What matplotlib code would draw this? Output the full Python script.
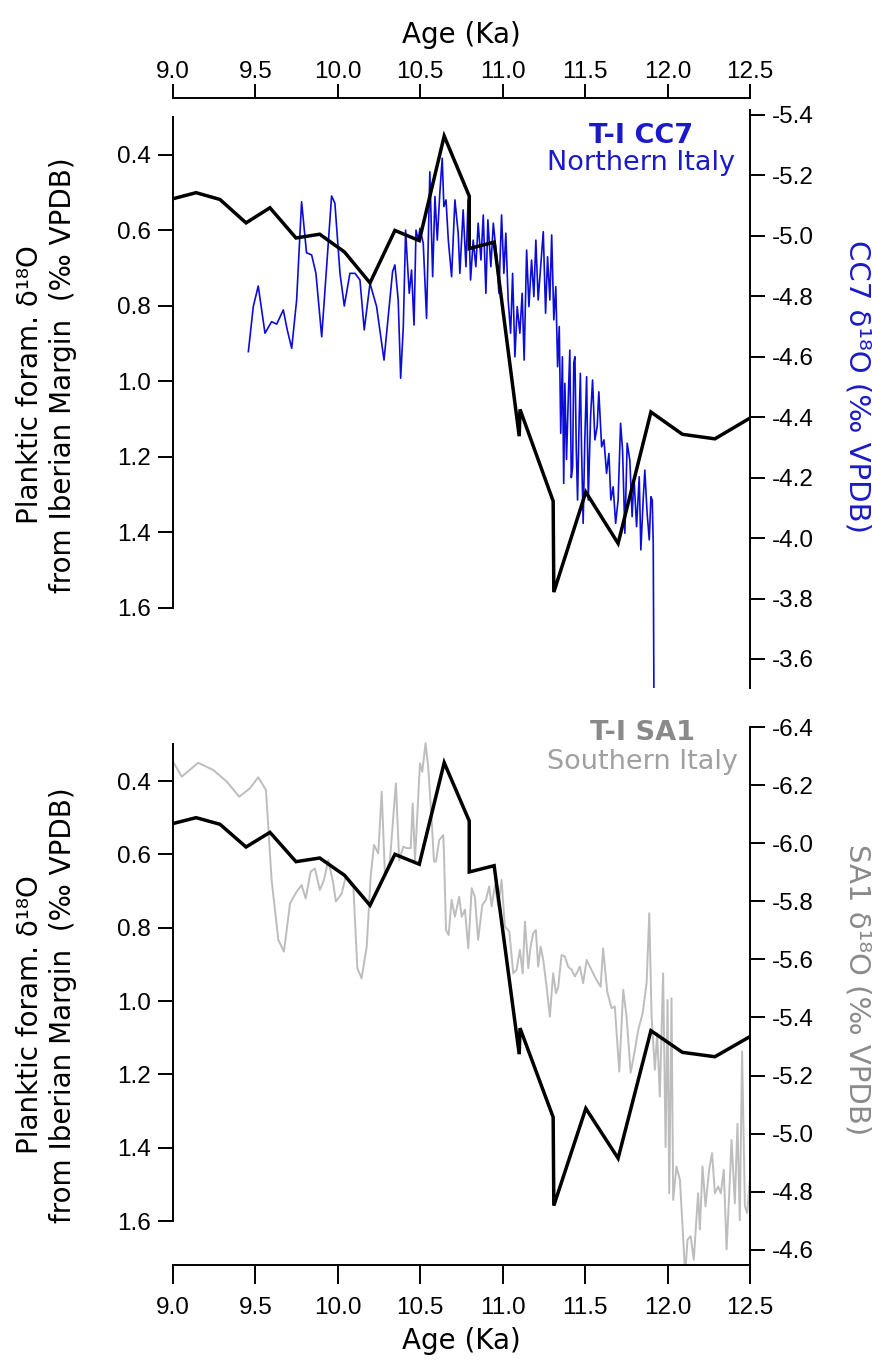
import matplotlib
matplotlib.use("Agg")
import matplotlib.pyplot as plt

plt.rcParams["font.family"] = ["Liberation Sans", "DejaVu Sans"]
plt.rcParams["axes.unicode_minus"] = False

# Iberian Margin planktic foraminifera d18O (same record in both panels)
iberia_age = [9.0, 9.14, 9.285, 9.443, 9.588, 9.746, 9.89, 10.04, 10.195, 10.346,
              10.494, 10.645, 10.797, 10.797, 10.948, 11.10, 11.105, 11.306, 11.31,
              11.504, 11.70, 11.899, 12.09, 12.287, 12.5]
iberia_d18o = [0.516, 0.50, 0.518, 0.58, 0.54, 0.62, 0.61, 0.657, 0.739, 0.60,
               0.627, 0.35, 0.509, 0.648, 0.631, 1.145, 1.074, 1.317, 1.558,
               1.293, 1.429, 1.081, 1.14, 1.152, 1.097]

# CC7 speleothem, Northern Italy
cc7_age = [9.457, 9.487, 9.517, 9.558, 9.598, 9.629, 9.669, 9.693, 9.72, 9.75,
           9.78, 9.81, 9.841, 9.867, 9.902, 9.932, 9.962, 9.982, 10.013, 10.039,
           10.073, 10.104, 10.134, 10.16, 10.195, 10.235, 10.28, 10.332, 10.346, 10.366,
           10.381, 10.397, 10.411, 10.421, 10.433, 10.447, 10.462, 10.474, 10.488, 10.498,
           10.518, 10.538, 10.558, 10.575, 10.589, 10.603, 10.619, 10.633, 10.643, 10.656,
           10.67, 10.69, 10.71, 10.73, 10.74, 10.76, 10.777, 10.79, 10.805, 10.821,
           10.837, 10.851, 10.868, 10.882, 10.898, 10.91, 10.928, 10.943, 10.963, 10.977,
           10.993, 11.007, 11.019, 11.033, 11.048, 11.06, 11.074, 11.088, 11.104, 11.118,
           11.13, 11.145, 11.159, 11.175, 11.189, 11.201, 11.215, 11.23, 11.246, 11.26,
           11.272, 11.286, 11.297, 11.31, 11.322, 11.333, 11.343, 11.352, 11.362, 11.37,
           11.377, 11.387, 11.397, 11.407, 11.416, 11.424, 11.431, 11.438, 11.446, 11.454,
           11.464, 11.471, 11.478, 11.488, 11.498, 11.509, 11.519, 11.533, 11.545, 11.559,
           11.573, 11.583, 11.60, 11.614, 11.63, 11.644, 11.656, 11.67, 11.685, 11.70,
           11.715, 11.727, 11.741, 11.755, 11.771, 11.785, 11.796, 11.812, 11.828, 11.838,
           11.852, 11.862, 11.876, 11.889, 11.899, 11.907, 11.913, 11.917]
cc7_d18o = [-4.617, -4.766, -4.834, -4.678, -4.716, -4.708, -4.755, -4.689, -4.628, -4.788,
            -5.113, -4.944, -4.937, -4.876, -4.666, -4.898, -5.132, -5.108, -4.876, -4.768,
            -4.876, -4.876, -4.854, -4.689, -4.843, -4.766, -4.589, -4.882, -4.904, -4.788,
            -4.529, -4.70, -5.019, -4.92, -4.81, -4.887, -4.705, -5.019, -4.986, -5.025,
            -4.975, -4.727, -5.212, -4.865, -5.13, -4.986, -5.146, -5.257, -5.097, -5.119,
            -4.986, -4.865, -5.119, -5.009, -4.876, -5.086, -4.898, -5.119, -4.854, -4.986,
            -4.898, -5.042, -4.92, -5.069, -4.81, -5.053, -4.898, -5.042, -4.931, -4.81,
            -5.069, -4.876, -5.009, -4.788, -4.678, -4.876, -4.60, -4.766, -4.678, -4.81,
            -4.589, -4.953, -4.766, -4.92, -4.799, -4.986, -4.788, -4.898, -5.014, -4.744,
            -4.931, -4.788, -5.003, -4.722, -4.832, -4.567, -4.70, -4.347, -4.60, -4.181,
            -4.512, -4.26, -4.45, -4.622, -4.20, -4.236, -4.58, -4.60, -4.30, -4.126,
            -4.402, -4.545, -4.30, -4.049, -4.325, -4.534, -4.126, -4.402, -4.523, -4.325,
            -4.369, -4.484, -4.302, -4.325, -4.214, -4.28, -4.126, -4.17, -4.049, -4.126,
            -4.38, -4.291, -4.016, -4.314, -4.258, -4.071, -4.203, -4.038, -4.203, -3.961,
            -4.126, -4.225, -4.082, -3.994, -4.137, -4.126, -3.983, -3.503]

# SA1 speleothem, Southern Italy
sa1_age = [9.0, 9.053, 9.153, 9.244, 9.326, 9.402, 9.467, 9.517, 9.564, 9.598,
           9.639, 9.673, 9.71, 9.75, 9.78, 9.805, 9.835, 9.861, 9.891, 9.916,
           9.942, 9.972, 9.988, 10.023, 10.049, 10.073, 10.094, 10.118, 10.144, 10.175,
           10.199, 10.219, 10.245, 10.266, 10.286, 10.316, 10.352, 10.372, 10.397, 10.417,
           10.442, 10.454, 10.468, 10.498, 10.512, 10.532, 10.548, 10.569, 10.583, 10.595,
           10.615, 10.639, 10.643, 10.656, 10.672, 10.69, 10.71, 10.736, 10.751, 10.771,
           10.791, 10.812, 10.831, 10.851, 10.876, 10.898, 10.918, 10.933, 10.953, 10.973,
           10.993, 11.013, 11.04, 11.064, 11.084, 11.104, 11.121, 11.135, 11.155, 11.169,
           11.185, 11.201, 11.215, 11.23, 11.246, 11.266, 11.286, 11.306, 11.323, 11.337,
           11.357, 11.377, 11.397, 11.418, 11.438, 11.468, 11.488, 11.509, 11.529, 11.549,
           11.569, 11.594, 11.609, 11.634, 11.66, 11.68, 11.707, 11.731, 11.751, 11.776,
           11.802, 11.822, 11.849, 11.873, 11.889, 11.903, 11.923, 11.937, 11.953, 11.973,
           11.988, 12.0, 12.01, 12.024, 12.034, 12.054, 12.075, 12.091, 12.107, 12.121,
           12.14, 12.159, 12.185, 12.196, 12.212, 12.23, 12.252, 12.27, 12.287, 12.307,
           12.323, 12.341, 12.358, 12.374, 12.388, 12.408, 12.424, 12.438, 12.452, 12.469,
           12.483, 12.5]
sa1_d18o = [-6.281, -6.229, -6.277, -6.252, -6.212, -6.16, -6.189, -6.227, -6.183, -5.874,
            -5.667, -5.627, -5.793, -5.833, -5.856, -5.81, -5.902, -5.913, -5.839, -5.874,
            -5.942, -5.862, -5.799, -5.827, -5.887, -5.862, -5.85, -5.57, -5.535, -5.644,
            -5.884, -5.994, -5.965, -6.177, -5.885, -5.942, -6.206, -5.942, -5.988, -5.983,
            -5.983, -6.137, -5.942, -6.275, -6.246, -6.344, -6.263, -6.08, -5.937, -5.937,
            -6.011, -6.028, -5.977, -5.701, -5.684, -5.805, -5.747, -5.816, -5.747, -5.771,
            -5.638, -5.845, -5.816, -5.667, -5.787, -5.805, -5.851, -5.782, -5.856, -5.782,
            -5.874, -5.713, -5.696, -5.552, -5.564, -5.633, -5.552, -5.73, -5.57, -5.644,
            -5.69, -5.701, -5.575, -5.644, -5.598, -5.506, -5.403, -5.552, -5.483, -5.506,
            -5.615, -5.61, -5.575, -5.564, -5.541, -5.575, -5.518, -5.598, -5.575, -5.552,
            -5.529, -5.506, -5.638, -5.489, -5.432, -5.438, -5.214, -5.495, -5.404, -5.21,
            -5.289, -5.357, -5.415, -5.52, -5.759, -5.404, -5.22, -5.346, -5.128, -5.552,
            -4.954, -5.46, -4.795, -5.466, -4.772, -4.887, -4.841, -4.681, -4.515, -4.635,
            -4.647, -4.566, -4.795, -4.67, -4.887, -4.75, -4.876, -4.933, -4.795, -4.818,
            -4.795, -4.876, -4.602, -4.795, -4.978, -4.761, -5.034, -4.702, -5.283, -4.75,
            -4.727, -4.852]

age_ticks = [9.0, 9.5, 10.0, 10.5, 11.0, 11.5, 12.0, 12.5]
iberia_ticks = [0.4, 0.6, 0.8, 1.0, 1.2, 1.4, 1.6]
cc7_ticks = [-5.4, -5.2, -5.0, -4.8, -4.6, -4.4, -4.2, -4.0, -3.8, -3.6]
sa1_ticks = [-6.4, -6.2, -6.0, -5.8, -5.6, -5.4, -5.2, -5.0, -4.8, -4.6]

blue = "#0c0cd8"
blue_text = "#1a1ac8"
grey = "#bdbdbd"
grey_text = "#8a8a8a"
label_font = "DejaVu Sans"

W, H = 872, 1360
fig = plt.figure(figsize=(W / 100, H / 100), dpi=100)


def box(x0, y0, x1, y1):
    return [x0 / W, 1 - y1 / H, (x1 - x0) / W, (y1 - y0) / H]


def style_axes(ax, axr, rticks, lims, rlims):
    ax.set_xlim(9.0, 12.5)
    ax.set_ylim(*lims)
    axr.set_ylim(*rlims)
    ax.set_xticks(age_ticks)
    ax.set_xticklabels(["%.1f" % t for t in age_ticks])
    ax.set_yticks(iberia_ticks)
    ax.set_yticklabels(["%.1f" % t for t in iberia_ticks])
    axr.set_yticks(rticks)
    axr.set_yticklabels(["%.1f" % t for t in rticks])
    ax.spines["left"].set_bounds(0.30, 1.6)
    ax.spines["right"].set_visible(False)
    for s in ["left", "top", "bottom"]:
        axr.spines[s].set_visible(False)
    for a in (ax, axr):
        for s in a.spines.values():
            s.set_linewidth(1.4)
        a.tick_params(direction="out", length=11, width=1.4, labelsize=17.5, pad=5)
    # lines of the left axes drawn above the twin
    ax.set_zorder(axr.get_zorder() + 1)
    ax.patch.set_visible(False)


def left_title(yc):
    fig.text(30 / W, 1 - yc / H, "Planktic foram. δ¹⁸O", rotation=90,
             ha="center", va="center", family=label_font, fontsize=20)
    fig.text(63 / W, 1 - (yc - 10) / H, "from Iberian Margin  (‰ VPDB)", rotation=90,
             ha="center", va="center", family=label_font, fontsize=20)


# top panel: CC7
ax1 = fig.add_axes(box(173, 110, 750, 688))
ax1r = ax1.twinx()
ax1r.plot(cc7_age, cc7_d18o, color=blue, lw=1.2)
ax1.plot(iberia_age, iberia_d18o, color="black", lw=2.5, solid_joinstyle="miter")
style_axes(ax1, ax1r, cc7_ticks, (1.812, 0.281), (-3.504, -5.4165))
ax1.spines["bottom"].set_visible(False)
ax1.xaxis.set_ticks_position("top")
ax1.spines["top"].set_position(("outward", 12 * 0.72))
ax1.tick_params(axis="x", length=10, pad=1)
ax1.set_xlabel("Age (Ka)", family=label_font, fontsize=20, labelpad=13)
ax1.xaxis.set_label_position("top")
left_title(385)

# bottom panel: SA1
ax2 = fig.add_axes(box(173, 727, 750, 1265))
ax2r = ax2.twinx()
ax2r.plot(sa1_age, sa1_d18o, color=grey, lw=1.4)
ax2.plot(iberia_age, iberia_d18o, color="black", lw=2.5, solid_joinstyle="miter")
style_axes(ax2, ax2r, sa1_ticks, (1.72, 0.2527), (-4.548, -6.4))
ax2.spines["top"].set_visible(False)
ax2.tick_params(axis="x", length=14, pad=9)
ax2.set_xlabel("Age (Ka)", family=label_font, fontsize=20, labelpad=6)
left_title(1015)

fig.text(857 / W, 1 - 387 / H, "CC7 δ¹⁸O (‰ VPDB)", rotation=270, ha="center",
         va="center", family=label_font, fontsize=21, color=blue_text)
fig.text(857 / W, 1 - 990 / H, "SA1 δ¹⁸O (‰ VPDB)", rotation=270, ha="center",
         va="center", family=label_font, fontsize=21, color=grey_text)

# site names
fig.text(641 / W, 1 - 136 / H, "T-I CC7", ha="center", va="center",
         family=label_font, fontsize=19.5, fontweight="bold", color=blue_text)
fig.text(641 / W, 1 - 163 / H, "Northern Italy", ha="center", va="center",
         family=label_font, fontsize=19.5, color=blue_text)
fig.text(642 / W, 1 - 733 / H, "T-I SA1", ha="center", va="center",
         family=label_font, fontsize=19.5, fontweight="bold", color=grey_text)
fig.text(642 / W, 1 - 762 / H, "Southern Italy", ha="center", va="center",
         family=label_font, fontsize=19.5, color="#a0a0a0")

fig.savefig("out.png", dpi=100)
